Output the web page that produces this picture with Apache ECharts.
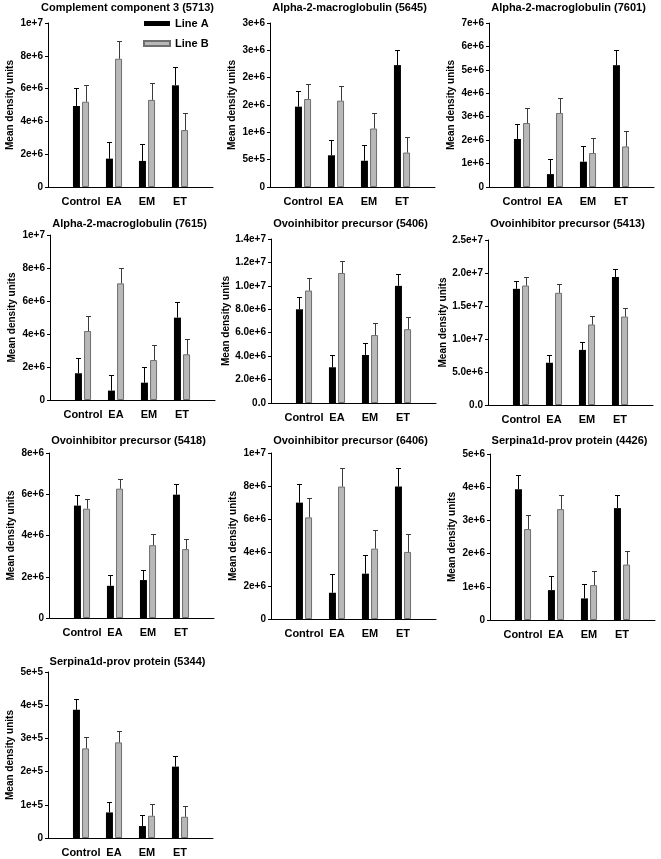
<!DOCTYPE html>
<html>
<head>
<meta charset="utf-8">
<script src="https://cdn.jsdelivr.net/npm/echarts@6/dist/echarts.min.js"></script>
<style>
html,body{margin:0;padding:0;background:#fff;}
#chart{width:661px;height:859px;}
</style>
</head>
<body>
<div id="chart"></div>
<script>
// ---------- DATA ----------
const categories = ['Control', 'EA', 'EM', 'ET'];
const seriesNames = ['Line A', 'Line B'];
const yAxisName = 'Mean density units';

const p1Title = 'Complement component 3 (5713)';
const p1LineA = [4.94e6, 1.73e6, 1.59e6, 6.2e6];
const p1ErrA  = [1.08e6, 1.03e6, 1.06e6, 1.09e6];
const p1LineB = [5.2e6, 7.82e6, 5.31e6, 3.47e6];
const p1ErrB  = [1.02e6, 1.06e6, 1.02e6, 1.06e6];
const p1Ticks = ['0', '2e+6', '4e+6', '6e+6', '8e+6', '1e+7'];
const p1Max = 1e7, p1Step = 2e6;

const p2Title = 'Alpha-2-macroglobulin (5645)';
const p2LineA = [1.47e6, 0.58e6, 0.48e6, 2.23e6];
const p2ErrA  = [0.29e6, 0.28e6, 0.29e6, 0.28e6];
const p2LineB = [1.61e6, 1.58e6, 1.07e6, 0.63e6];
const p2ErrB  = [0.28e6, 0.27e6, 0.28e6, 0.29e6];
const p2Ticks = ['0', '5e+5', '1e+6', '2e+6', '2e+6', '3e+6', '3e+6'];
const p2Max = 3e6, p2Step = 5e5;

const p3Title = 'Alpha-2-macroglobulin (7601)';
const p3LineA = [2.05e6, 0.55e6, 1.08e6, 5.2e6];
const p3ErrA  = [0.65e6, 0.65e6, 0.65e6, 0.66e6];
const p3LineB = [2.73e6, 3.16e6, 1.45e6, 1.73e6];
const p3ErrB  = [0.65e6, 0.65e6, 0.64e6, 0.65e6];
const p3Ticks = ['0', '1e+6', '2e+6', '3e+6', '4e+6', '5e+6', '6e+6', '7e+6'];
const p3Max = 7e6, p3Step = 1e6;

const p4Title = 'Alpha-2-macroglobulin (7615)';
const p4LineA = [1.62e6, 0.57e6, 1.05e6, 4.99e6];
const p4ErrA  = [0.92e6, 0.95e6, 0.92e6, 0.93e6];
const p4LineB = [4.18e6, 7.07e6, 2.42e6, 2.77e6];
const p4ErrB  = [0.93e6, 0.91e6, 0.91e6, 0.93e6];
const p4Ticks = ['0', '2e+6', '4e+6', '6e+6', '8e+6', '1e+7'];
const p4Max = 1e7, p4Step = 2e6;

const p5Title = 'Ovoinhibitor precursor (5406)';
const p5LineA = [8.0e6, 3.05e6, 4.1e6, 10.0e6];
const p5ErrA  = [1.08e6, 1.06e6, 1.05e6, 1.02e6];
const p5LineB = [9.6e6, 11.1e6, 5.8e6, 6.3e6];
const p5ErrB  = [1.04e6, 1.04e6, 1.05e6, 1.05e6];
const p5Ticks = ['0.0', '2.0e+6', '4.0e+6', '6.0e+6', '8.0e+6', '1.0e+7', '1.2e+7', '1.4e+7'];
const p5Max = 1.4e7, p5Step = 2e6;

const p6Title = 'Ovoinhibitor precursor (5413)';
const p6LineA = [1.76e7, 6.4e6, 8.35e6, 1.94e7];
const p6ErrA  = [1.25e6, 1.2e6, 1.22e6, 1.25e6];
const p6LineB = [1.81e7, 1.70e7, 1.22e7, 1.34e7];
const p6ErrB  = [1.27e6, 1.3e6, 1.25e6, 1.25e6];
const p6Ticks = ['0.0', '5.0e+6', '1.0e+7', '1.5e+7', '2.0e+7', '2.5e+7'];
const p6Max = 2.5e7, p6Step = 5e6;

const p7Title = 'Ovoinhibitor precursor (5418)';
const p7LineA = [5.45e6, 1.56e6, 1.84e6, 5.98e6];
const p7ErrA  = [0.5e6, 0.52e6, 0.51e6, 0.5e6];
const p7LineB = [5.3e6, 6.27e6, 3.53e6, 3.34e6];
const p7ErrB  = [0.49e6, 0.49e6, 0.52e6, 0.51e6];
const p7Ticks = ['0', '2e+6', '4e+6', '6e+6', '8e+6'];
const p7Max = 8e6, p7Step = 2e6;

const p8Title = 'Ovoinhibitor precursor (6406)';
const p8LineA = [7.01e6, 1.58e6, 2.73e6, 7.98e6];
const p8ErrA  = [1.11e6, 1.15e6, 1.11e6, 1.11e6];
const p8LineB = [6.12e6, 7.98e6, 4.24e6, 4.04e6];
const p8ErrB  = [1.15e6, 1.11e6, 1.11e6, 1.11e6];
const p8Ticks = ['0', '2e+6', '4e+6', '6e+6', '8e+6', '1e+7'];
const p8Max = 1e7, p8Step = 2e6;

const p9Title = 'Serpina1d-prov protein (4426)';
const p9LineA = [3.94e6, 0.9e6, 0.65e6, 3.37e6];
const p9ErrA  = [0.42e6, 0.42e6, 0.43e6, 0.41e6];
const p9LineB = [2.74e6, 3.34e6, 1.05e6, 1.67e6];
const p9ErrB  = [0.42e6, 0.42e6, 0.42e6, 0.42e6];
const p9Ticks = ['0', '1e+6', '2e+6', '3e+6', '4e+6', '5e+6'];
const p9Max = 5e6, p9Step = 1e6;

const p10Title = 'Serpina1d-prov protein (5344)';
const p10LineA = [3.86e5, 0.77e5, 0.36e5, 2.15e5];
const p10ErrA  = [0.32e5, 0.32e5, 0.33e5, 0.33e5];
const p10LineB = [2.70e5, 2.88e5, 0.67e5, 0.64e5];
const p10ErrB  = [0.33e5, 0.35e5, 0.34e5, 0.33e5];
const p10Ticks = ['0', '1e+5', '2e+5', '3e+5', '4e+5', '5e+5'];
const p10Max = 5e5, p10Step = 1e5;

// ---------- BUILD ----------
const panels = [
  {title:p1Title, a:p1LineA, ea:p1ErrA, b:p1LineB, eb:p1ErrB, ticks:p1Ticks, max:p1Max, step:p1Step},
  {title:p2Title, a:p2LineA, ea:p2ErrA, b:p2LineB, eb:p2ErrB, ticks:p2Ticks, max:p2Max, step:p2Step},
  {title:p3Title, a:p3LineA, ea:p3ErrA, b:p3LineB, eb:p3ErrB, ticks:p3Ticks, max:p3Max, step:p3Step},
  {title:p4Title, a:p4LineA, ea:p4ErrA, b:p4LineB, eb:p4ErrB, ticks:p4Ticks, max:p4Max, step:p4Step},
  {title:p5Title, a:p5LineA, ea:p5ErrA, b:p5LineB, eb:p5ErrB, ticks:p5Ticks, max:p5Max, step:p5Step},
  {title:p6Title, a:p6LineA, ea:p6ErrA, b:p6LineB, eb:p6ErrB, ticks:p6Ticks, max:p6Max, step:p6Step},
  {title:p7Title, a:p7LineA, ea:p7ErrA, b:p7LineB, eb:p7ErrB, ticks:p7Ticks, max:p7Max, step:p7Step},
  {title:p8Title, a:p8LineA, ea:p8ErrA, b:p8LineB, eb:p8ErrB, ticks:p8Ticks, max:p8Max, step:p8Step},
  {title:p9Title, a:p9LineA, ea:p9ErrA, b:p9LineB, eb:p9ErrB, ticks:p9Ticks, max:p9Max, step:p9Step},
  {title:p10Title, a:p10LineA, ea:p10ErrA, b:p10LineB, eb:p10ErrB, ticks:p10Ticks, max:p10Max, step:p10Step}
];

// layout (pixels)
const layout = [
  {l:48,  t:23,  h:164, ty:9},
  {l:270, t:23,  h:164, ty:9},
  {l:489, t:23,  h:164, ty:9},
  {l:50,  t:235, h:165, ty:225},
  {l:271, t:239, h:164, ty:225},
  {l:488, t:240, h:165, ty:225},
  {l:49,  t:453, h:165, ty:442},
  {l:271, t:453, h:166, ty:442},
  {l:490, t:454, h:166, ty:442},
  {l:48,  t:672, h:166, ty:663}
];
const W = 165;
const FONT = '"Liberation Sans", Arial, sans-serif';
const BAR_W = 7;
const OFF = 4.6;

const axisCats = [''].concat(categories, ['']);

function errRender(offset, color) {
  return function (params, api) {
    const idx = api.value(0), v = api.value(1), e = api.value(2);
    const p0 = api.coord([idx, v]);
    const p1 = api.coord([idx, v + e]);
    const x = Math.round(p0[0] + offset) + 0.5;
    const yt = Math.round(p1[1]) + 0.5;
    return {
      type: 'group',
      children: [
        {type:'line', shape:{x1:x, y1:p0[1], x2:x, y2:yt}, style:{stroke:color, lineWidth:1}},
        {type:'line', shape:{x1:x-2.5, y1:yt, x2:x+2.5, y2:yt}, style:{stroke:color, lineWidth:1}}
      ]
    };
  };
}

const option = {
  animation: false,
  backgroundColor: '#fff',
  textStyle: {fontFamily: FONT},
  title: [], grid: [], xAxis: [], yAxis: [], series: [],
  legend: {
    data: seriesNames,
    orient: 'vertical',
    left: 143, top: 18,
    itemWidth: 26, itemHeight: 5, itemGap: 9,
    icon: 'rect',
    padding: 0,
    textStyle: {fontFamily: FONT, fontWeight: 'bold', fontSize: 11, color: '#000'}
  }
};

panels.forEach(function (p, i) {
  const L = layout[i];
  option.title.push({
    text: p.title, left: L.l + W / 2 - 3, top: L.ty - 7, textAlign: 'center', padding: 0,
    textStyle: {fontFamily: FONT, fontWeight: 'bold', fontSize: 11, color: '#000'}
  });
  option.grid.push({left: L.l, top: L.t, width: W, height: L.h, containLabel: false});
  option.xAxis.push({
    type: 'category', gridIndex: i, data: axisCats, boundaryGap: false,
    axisLine: {lineStyle: {color: '#000', width: 1}},
    axisTick: {show: false},
    axisLabel: {interval: 0, margin: 9, color: '#000', fontFamily: FONT, fontWeight: 'bold', fontSize: 11},
    splitLine: {show: false}
  });
  const ticks = p.ticks, step = p.step;
  option.yAxis.push({
    type: 'value', gridIndex: i, min: 0, max: p.max, interval: step,
    name: yAxisName, nameLocation: 'middle', nameGap: 33,
    nameTextStyle: {fontFamily: FONT, fontWeight: 'bold', fontSize: 10, color: '#000'},
    axisLine: {show: true, lineStyle: {color: '#000', width: 1}},
    axisTick: {show: true, length: 3, lineStyle: {color: '#000'}},
    axisLabel: {
      margin: 5, color: '#000', fontFamily: FONT, fontWeight: 'bold', fontSize: 10,
      formatter: function (v) { return ticks[Math.round(v / step)]; }
    },
    splitLine: {show: false}
  });
  const aData = [null].concat(p.a, [null]);
  const bData = [null].concat(p.b, [null]);
  option.series.push({
    name: seriesNames[0], type: 'bar', xAxisIndex: i, yAxisIndex: i, data: aData,
    barWidth: BAR_W, barGap: '30%',
    itemStyle: {color: '#000', borderColor: '#000', borderWidth: 0}
  });
  option.series.push({
    name: seriesNames[1], type: 'bar', xAxisIndex: i, yAxisIndex: i, data: bData,
    barWidth: BAR_W, barGap: '30%',
    itemStyle: {color: '#b8b8b8', borderColor: '#6f6f6f', borderWidth: 1}
  });
  option.series.push({
    type: 'custom', xAxisIndex: i, yAxisIndex: i, z: 3,
    renderItem: errRender(-OFF, '#000'),
    encode: {x: 0, y: 1},
    data: categories.map(function (c, k) { return [k + 1, p.a[k], p.ea[k]]; })
  });
  option.series.push({
    type: 'custom', xAxisIndex: i, yAxisIndex: i, z: 3,
    renderItem: errRender(OFF, '#3a3a3a'),
    encode: {x: 0, y: 1},
    data: categories.map(function (c, k) { return [k + 1, p.b[k], p.eb[k]]; })
  });
});

const chart = echarts.init(document.getElementById('chart'), null, {renderer: 'canvas'});
chart.setOption(option);
</script>
</body>
</html>
